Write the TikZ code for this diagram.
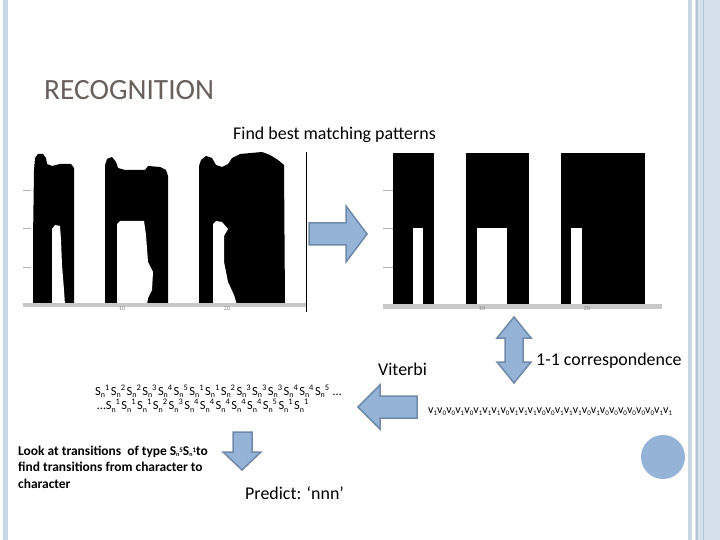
\documentclass[tikz,border=0pt]{standalone}
\usepackage{fontspec}
\setmainfont{Carlito}
\definecolor{arrowfill}{RGB}{149,179,215}
\definecolor{arrowline}{RGB}{112,137,168}
\definecolor{titlegray}{RGB}{105,96,92}
\definecolor{decor}{RGB}{201,214,227}
\definecolor{decorlight}{RGB}{214,224,235}
\definecolor{decordark}{RGB}{180,198,217}
\definecolor{axisgray}{RGB}{200,200,200}
\newcommand{\seqS}[1]{\makebox[15.7bp][l]{S\raisebox{-2.5bp}{\fontsize{8}{8}\selectfont n}\raisebox{5bp}{\fontsize{8.5}{8}\selectfont #1}}}
\newcommand{\seqV}[1]{\makebox[9.04bp][l]{v\raisebox{-2bp}{\fontsize{7}{7}\selectfont #1}}}
\tikzset{
  blockarrow/.style={fill=arrowfill, draw=arrowline, line width=1.5bp, line join=miter},
  txt/.style={anchor=base west, inner sep=0pt, font=\fontsize{18}{20}\selectfont},
  seqtxt/.style={anchor=base west, inner sep=0pt, align=left, font=\fontsize{12.5}{14.5}\selectfont},
  boldtxt/.style={anchor=base west, inner sep=0pt, font=\fontsize{13.5}{16}\selectfont\bfseries},
  ticklbl/.style={inner sep=0pt, font=\fontsize{6}{6}\selectfont, text=gray},
  axtick/.style={draw=gray!60, line width=0.8bp}
}
\begin{document}
\begin{tikzpicture}[x=1bp,y=-1bp]
\useasboundingbox (0,0) rectangle (720,540);
\fill[white] (0,0) rectangle (720,540);
% decoration bars
\fill[decor] (3,0) rectangle (8,540);
\fill[decor] (687.5,0) rectangle (692,540);
\fill[decorlight] (695,0) rectangle (720,540);
\draw[decordark, line width=1.5bp] (697,0) -- (697,540);
\draw[decordark, line width=1bp] (703,0) -- (703,540);

% title
\node[anchor=base west, inner sep=0pt, font=\fontsize{29.5}{31}\selectfont, text=titlegray] (title) at (44,100) {RECOGNITION};
\node[txt] (find) at (233,139.5) {Find best matching patterns};

% left image: extracted silhouettes
\fill[black] (33,305) -- (33,240) -- (34,170) -- (35,158) -- (38,154) -- (43,154) -- (46,158) -- (47,164) -- (52,166) -- (60,164) -- (71,164) -- (74,168) -- (74,305) -- cycle;
\fill[white] (52,305) -- (52,229) -- (55,225) -- (60,226) -- (61,240) -- (62,265) -- (64,290) -- (65,305) -- cycle;
\fill[black] (105,305) -- (105,165) -- (107,159) -- (112,157) -- (116,162) -- (118,168) -- (125,170) -- (145,170) -- (148,166) -- (160,167) -- (166,170) -- (168,176) -- (168,305) -- cycle;
\fill[white] (117,305) -- (117,224) -- (120,221) -- (144,221) -- (146,235) -- (148,262) -- (153,272) -- (152,290) -- (148,298) -- (147,305) -- cycle;
\fill[black] (199,305) -- (199,166) -- (201,160) -- (206,156) -- (212,158) -- (216,165) -- (222,167) -- (228,164) -- (232,158) -- (240,154) -- (262,152) -- (270,155) -- (278,160) -- (284,165) -- (285,305) -- cycle;
\fill[white] (213,305) -- (213,224) -- (216,221) -- (222,222) -- (228,229) -- (224,236) -- (224,262) -- (228,282) -- (234,295) -- (237,305) -- cycle;
\fill[axisgray] (23,303) rectangle (307,307);
\foreach \yy in {190,228,267} \draw[axtick] (23,\yy) -- (31,\yy);
\draw[black, line width=1bp] (306,152) -- (306,312);
\node[ticklbl] (l10) at (122,309) {10};
\node[ticklbl] (l20) at (227,309) {20};

% right image: matched patterns
\fill[black] (393,153) rectangle (434,304);
\fill[white] (413,228) rectangle (423,304);
\fill[black] (466,153) rectangle (529,304);
\fill[white] (477,228) rectangle (507,304);
\fill[black] (561,153) rectangle (645,304);
\fill[white] (571,228) rectangle (582,304);
\fill[axisgray] (383,304) rectangle (662,309);
\foreach \yy in {190,228,267} \draw[axtick] (383,\yy) -- (393,\yy);
\node[ticklbl] (r10) at (482,309) {10};
\node[ticklbl] (r20) at (587,309) {20};

% block arrows
\path[blockarrow] (309,223) -- (346,223) -- (346,206) -- (367,234) -- (346,262) -- (346,245) -- (309,245) -- cycle;
\path[blockarrow] (514,317) -- (531,338) -- (523,338) -- (523,362) -- (531,362) -- (514,383) -- (497,362) -- (505,362) -- (505,338) -- (497,338) -- cycle;
\path[blockarrow] (358,407) -- (380,385) -- (380,396) -- (417,396) -- (417,418) -- (380,418) -- (380,429) -- cycle;
\path[blockarrow] (233,432) -- (252,432) -- (252,452) -- (261,452) -- (242,470) -- (223,452) -- (233,452) -- cycle;

% labels
\node[txt] (viterbi) at (378,375) {Viterbi};
\node[txt] (corr) at (536,365) {1-1 correspondence};
\node[txt] (predict) at (245,499) {Predict: ‘nnn’};

% state sequence (base anchor = baseline of last line)
\node[seqtxt] (seq) at (95,409.5) {\seqS1\seqS2\seqS2\seqS3\seqS4\seqS5\seqS1\seqS1\seqS2\seqS3\seqS3\seqS3\seqS4\seqS4\seqS5\,…\\
\hspace*{2bp}…\seqS1\seqS1\seqS1\seqS2\seqS3\seqS4\seqS4\seqS4\seqS4\seqS4\seqS5\seqS1\seqS1};

% observation sequence
\node[anchor=base west, inner sep=0pt, font=\fontsize{12}{14}\selectfont] (obs) at (428,413) {\seqV1\seqV0\seqV0\seqV1\seqV0\seqV1\seqV1\seqV1\seqV0\seqV1\seqV1\seqV1\seqV0\seqV0\seqV1\seqV1\seqV1\seqV0\seqV1\seqV0\seqV0\seqV0\seqV0\seqV0\seqV0\seqV1\seqV1};

% explanation (base anchor = baseline of last line)
\node[boldtxt, align=left, font=\fontsize{13.5}{16.5}\selectfont\bfseries] (look) at (18,488) {Look at transitions \ of type S\raisebox{-1.5bp}{\fontsize{6}{6}\selectfont n}\raisebox{3bp}{\fontsize{7}{6}\selectfont 5}S\raisebox{-1.5bp}{\fontsize{6}{6}\selectfont n}\raisebox{3bp}{\fontsize{7}{6}\selectfont 1}to\\find transitions from character to\\character};

% decorative circle
\fill[arrowfill] (663,457) circle (22);
\end{tikzpicture}
\end{document}
